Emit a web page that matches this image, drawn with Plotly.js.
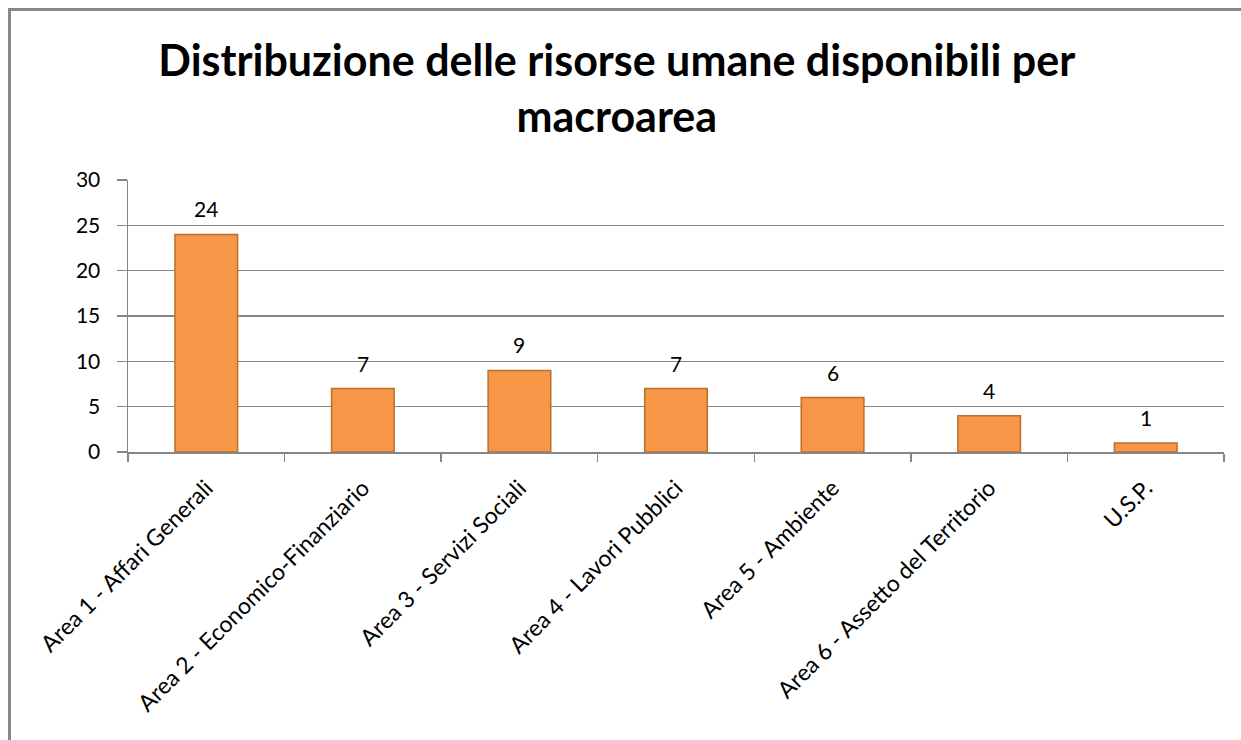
<!DOCTYPE html>
<html>
<head>
<meta charset="utf-8">
<script src="https://cdn.plot.ly/plotly-3.0.1.min.js"></script>
<style>
  html, body { margin: 0; padding: 0; background: #fff; }
  #chart { width: 1241px; height: 740px; }
</style>
</head>
<body>
<div id="chart"></div>
<script>
const areas = [
    "Area 1 - Affari Generali",
    "Area 2 - Economico-Finanziario",
    "Area 3 - Servizi Sociali",
    "Area 4 - Lavori Pubblici",
    "Area 5 - Ambiente",
    "Area 6 - Assetto del Territorio",
    "U.S.P.",
];
const risorse = [24, 7, 9, 7, 6, 4, 1];
const yTicks = [0, 5, 10, 15, 20, 25, 30];

const W = 1241, H = 740;
const margin = { l: 128, r: 17, t: 180, b: 288 };
const plotW = W - margin.l - margin.r;
const plotH = H - margin.t - margin.b;
// paper coords of the outer frame (cropped at the right and bottom)
const px = (x) => (x - margin.l) / plotW;
const py = (y) => (H - margin.b - y) / plotH;

const font = "Lato, 'Open Sans', sans-serif";

// value labels sit a little above each bar
const valueLabels = areas.map((a, i) => ({
    x: a,
    y: risorse[i],
    text: String(risorse[i]),
    showarrow: false,
    yanchor: "bottom",
    yshift: 11,
    font: { family: font, size: 21, color: "#000" },
}));

Plotly.newPlot("chart", [{
    type: "bar",
    x: areas,
    y: risorse,
    marker: { color: "#F79646", line: { color: "#B8702F", width: 1.5 } },
    hoverinfo: "x+y",
}], {
    width: W,
    height: H,
    margin: margin,
    paper_bgcolor: "#fff",
    plot_bgcolor: "#fff",
    showlegend: false,
    bargap: 0.6,
    title: {
        text: "Distribuzione delle risorse umane disponibili per<br>macroarea",
        font: { family: font, size: 43, color: "#000", weight: "bold" },
        x: 0.497,
        xanchor: "center",
        y: 0.897,
        yanchor: "top",
    },
    xaxis: {
        type: "category",
        tickangle: -45,
        tickson: "boundaries",
        ticks: "outside",
        ticklen: 8,
        tickcolor: "#868686",
        tickwidth: 1.5,
        ticklabelstandoff: 12,
        showline: true,
        linecolor: "#868686",
        linewidth: 1.5,
        showgrid: false,
        tickfont: { family: font, size: 23, color: "#000" },
    },
    yaxis: {
        range: [0, 30],
        tickvals: yTicks,
        ticks: "outside",
        ticklen: 10,
        tickcolor: "#868686",
        tickwidth: 1.5,
        ticklabelstandoff: 12,
        showline: true,
        linecolor: "#868686",
        linewidth: 1.5,
        showgrid: true,
        gridcolor: "#868686",
        gridwidth: 1.5,
        zeroline: false,
        tickfont: { family: font, size: 21, color: "#000" },
    },
    annotations: valueLabels,
    shapes: [{
        type: "rect",
        xref: "paper",
        yref: "paper",
        x0: px(9.5),
        x1: px(1280),
        y0: py(780),
        y1: py(9.5),
        line: { color: "#878787", width: 3 },
        layer: "below",
    }],
}, { displayModeBar: false, staticPlot: true });
</script>
</body>
</html>
